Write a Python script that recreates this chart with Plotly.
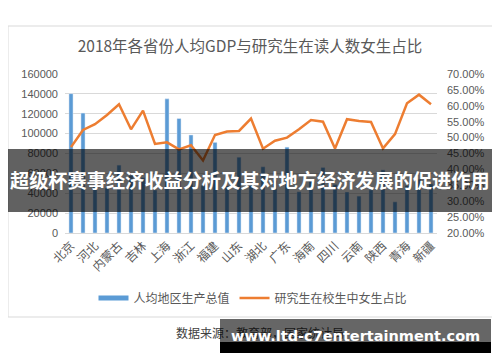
import plotly.graph_objects as go

provinces = ["北京", "天津", "河北", "山西", "内蒙古", "辽宁", "吉林", "黑龙江", "上海", "江苏",
             "浙江", "安徽", "福建", "江西", "山东", "河南", "湖北", "湖南", "广东", "广西",
             "海南", "重庆", "四川", "贵州", "云南", "西藏", "陕西", "甘肃", "青海", "宁夏", "新疆"]
gdp_per_capita = [140211, 120711, 47772, 45328, 68302, 58008, 55611, 43274, 134982, 115168,
                  98643, 47712, 91197, 47434, 76267, 50152, 66616, 52949, 86412, 41489,
                  51955, 65933, 48883, 41244, 37136, 43398, 63477, 31336, 47689, 54094, 49475]
female_share = [0.470, 0.524, 0.542, 0.571, 0.605, 0.526, 0.585, 0.480, 0.485, 0.463,
                0.476, 0.428, 0.508, 0.519, 0.521, 0.560, 0.465, 0.490, 0.500, 0.526,
                0.555, 0.550, 0.466, 0.558, 0.552, 0.549, 0.466, 0.511, 0.608, 0.635, 0.605]
tick_labels = provinces[::2]

title_text = "2018年各省份人均GDP与研究生在读人数女生占比"
bar_name = "人均地区生产总值"
line_name = "研究生在校生中女生占比"
banner_text = "超级杯赛事经济收益分析及其对地方经济发展的促进作用"
source_text = "数据来源：教育部，国家统计局"
watermark_text = "www.ltd-c7entertainment.com"

# page body has an 8px default margin, so the figure sits at (8, 8) in the window
OFF = 8
W_FIG, H_FIG = 500 - OFF, 362 - OFF
PLOT_L, PLOT_R, PLOT_T, PLOT_B = 65, 437, 74, 233  # window pixels
L = PLOT_L - OFF
R = W_FIG - (PLOT_R - OFF)
T = PLOT_T - OFF
B = H_FIG - (PLOT_B - OFF)
PW = PLOT_R - PLOT_L
PH = PLOT_B - PLOT_T


def px2x(px):
    return (px - PLOT_L) / PW


def py2y(py):
    return (PLOT_B - py) / PH


BLUE = "#5B9BD5"
ORANGE = "#ED7D31"
GRID = "#D9D9D9"
TXT = "#595959"
CJK = "Noto Sans CJK SC"
NUM = "Liberation Sans"

fig = go.Figure()
fig.add_trace(go.Bar(x=provinces, y=gdp_per_capita, name=bar_name, marker_color=BLUE,
                     showlegend=False, yaxis="y"))
# legend-only proxy for the bar series (wide swatch like the original)
fig.add_trace(go.Scatter(x=[None], y=[None], mode="lines", name=bar_name,
                         line=dict(color=BLUE, width=5), yaxis="y"))
fig.add_trace(go.Scatter(x=provinces, y=female_share, name=line_name, mode="lines",
                         line=dict(color=ORANGE, width=2.5), yaxis="y2"))

shapes = [
    # chart border
    dict(type="rect", xref="paper", yref="paper", x0=px2x(8), x1=px2x(493),
         y0=py2y(26), y1=py2y(317), line=dict(color=GRID, width=1), layer="below"),
    # banner band
    dict(type="rect", xref="paper", yref="paper", x0=px2x(0), x1=px2x(500),
         y0=py2y(149), y1=py2y(212), fillcolor="rgba(0,0,0,0.62)", line=dict(width=0),
         layer="above"),
    # watermark black strip
    dict(type="rect", xref="paper", yref="paper", x0=px2x(220), x1=px2x(491),
         y0=py2y(342), y1=py2y(353), fillcolor="#000000", line=dict(width=0),
         layer="above"),
]

annotations = [
    dict(text=banner_text, xref="paper", yref="paper", x=px2x(250), y=py2y(180),
         xanchor="center", yanchor="middle", showarrow=False,
         font=dict(family=CJK, size=19.2, color="white", weight="bold")),
    dict(text=source_text, xref="paper", yref="paper", x=px2x(174), y=py2y(332),
         xanchor="left", yanchor="middle", showarrow=False,
         font=dict(family=CJK, size=12, color="#404040")),
    dict(text=" ", xref="paper", yref="paper", x=px2x(220), y=py2y(319),
         xanchor="left", yanchor="top", showarrow=False, width=271, height=23,
         bgcolor="rgba(0,0,0,0.6)", borderpad=0, borderwidth=0),
    dict(text=watermark_text, xref="paper", yref="paper", x=px2x(355), y=py2y(336),
         xanchor="center", yanchor="middle", showarrow=False,
         font=dict(family="DejaVu Sans", size=14.5, color="white", weight="bold")),
]

fig.update_layout(
    width=W_FIG, height=H_FIG,
    margin=dict(l=L, r=R, t=T, b=B, autoexpand=False),
    paper_bgcolor="white", plot_bgcolor="white",
    title=dict(text=title_text, x=(250 - OFF) / W_FIG, xanchor="center", xref="container",
               y=1 - (47 - OFF) / H_FIG, yanchor="middle", yref="container",
               font=dict(family=CJK, size=15.5, color=TXT)),
    bargap=0.66,
    xaxis=dict(type="category", categoryorder="array", categoryarray=provinces,
               tickmode="array", tickvals=tick_labels, ticktext=tick_labels,
               tickangle=-45, tickfont=dict(family=CJK, size=12, color=TXT),
               showline=True, linecolor=GRID, showgrid=False, ticks=""),
    yaxis=dict(range=[0, 160000], dtick=20000, tickformat="d", showgrid=True,
               gridcolor=GRID, zeroline=False,
               tickfont=dict(family=NUM, size=11, color=TXT), ticklabelstandoff=6),
    yaxis2=dict(range=[0.2, 0.7], dtick=0.05, tickformat=".2%", overlaying="y",
                side="right", showgrid=False, zeroline=False,
                tickfont=dict(family=NUM, size=11, color=TXT), ticklabelstandoff=9),
    legend=dict(orientation="h", x=px2x(253), xanchor="center", y=py2y(298),
                yanchor="middle", font=dict(family=CJK, size=12, color=TXT),
                itemwidth=30, traceorder="normal"),
    shapes=shapes,
    annotations=annotations,
)

fig.write_html("out.html")
